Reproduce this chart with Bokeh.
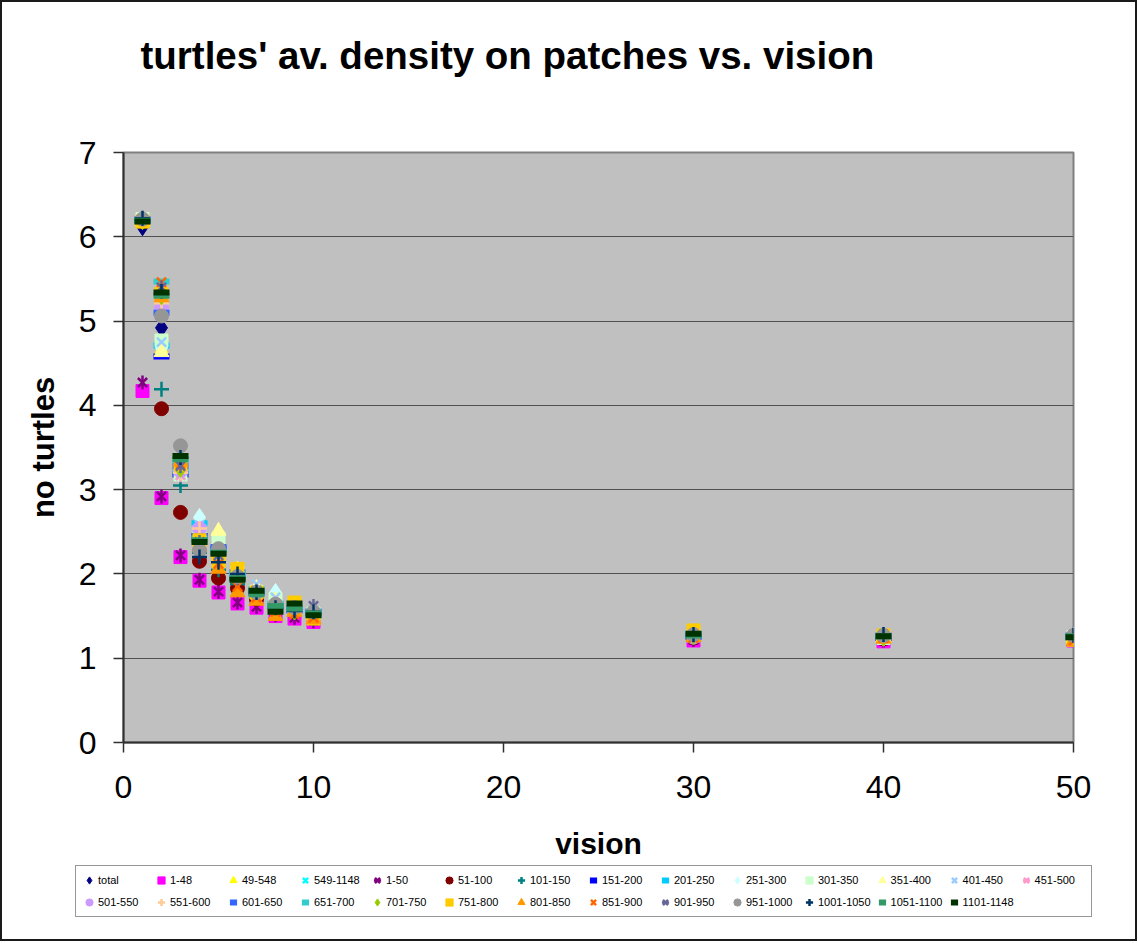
import math
from bokeh.plotting import figure
from bokeh.models import Legend, LegendItem, SingleIntervalTicker, Range1d, Title
from bokeh.embed import file_html
from bokeh.resources import INLINE

# ---------------- data ----------------
vision = [1, 2, 3, 4, 5, 6, 7, 8, 9, 10, 30, 40, 50]

total     = [6.12, 4.92, 3.30, 2.40, 2.20, 1.90, 1.75, 1.58, 1.55, 1.50, 1.25, 1.24, 1.24]
g_1_48    = [4.17, 2.90, 2.20, 1.92, 1.78, 1.65, 1.60, 1.50, 1.47, 1.43, 1.21, 1.20, 1.21]
g_49_548  = [6.18, 4.65, 3.20, 2.45, 2.25, 1.95, 1.78, 1.62, 1.57, 1.52, 1.26, 1.24, 1.23]
g_549_1148 = [6.20, 4.75, 3.17, 2.50, 2.28, 1.98, 1.80, 1.66, 1.58, 1.53, 1.27, 1.25, 1.25]
b_1_50    = [4.27, 2.92, 2.22, 1.93, 1.79, 1.66, 1.61, 1.51, 1.48, 1.44, 1.22, 1.21, 1.22]
b_51_100  = [6.18, 3.96, 2.73, 2.15, 1.95, 1.83, 1.70, 1.58, 1.55, 1.50, 1.24, 1.23, 1.23]
b_101_150 = [6.20, 4.19, 3.05, 2.25, 2.05, 1.88, 1.75, 1.60, 1.55, 1.52, 1.25, 1.24, 1.23]
b_151_200 = [6.20, 4.58, 3.18, 2.45, 2.30, 1.95, 1.78, 1.62, 1.57, 1.55, 1.26, 1.24, 1.25]
b_201_250 = [6.19, 4.71, 3.22, 2.60, 2.28, 2.00, 1.80, 1.65, 1.58, 1.52, 1.27, 1.26, 1.26]
b_251_300 = [6.20, 4.68, 3.20, 2.67, 2.35, 1.98, 1.82, 1.78, 1.60, 1.54, 1.28, 1.25, 1.26]
b_301_350 = [6.21, 4.77, 3.18, 2.50, 2.42, 2.02, 1.79, 1.70, 1.58, 1.53, 1.27, 1.24, 1.25]
b_351_400 = [6.20, 4.63, 3.25, 2.45, 2.51, 2.05, 1.83, 1.68, 1.61, 1.55, 1.28, 1.25, 1.25]
b_401_450 = [6.21, 4.75, 3.17, 2.58, 2.30, 2.00, 1.88, 1.72, 1.60, 1.56, 1.27, 1.26, 1.27]
b_451_500 = [6.20, 5.20, 3.17, 2.50, 2.25, 1.95, 1.78, 1.65, 1.58, 1.55, 1.26, 1.25, 1.24]
b_501_550 = [6.19, 5.15, 3.22, 2.54, 2.25, 1.97, 1.75, 1.64, 1.56, 1.52, 1.25, 1.25, 1.24]
b_551_600 = [6.20, 5.21, 3.20, 2.54, 2.20, 1.92, 1.76, 1.60, 1.55, 1.50, 1.26, 1.24, 1.23]
b_601_650 = [6.21, 5.10, 3.28, 2.45, 2.32, 2.02, 1.80, 1.62, 1.58, 1.54, 1.25, 1.27, 1.27]
b_651_700 = [6.20, 5.47, 3.35, 2.42, 2.27, 2.00, 1.82, 1.64, 1.60, 1.55, 1.29, 1.26, 1.25]
b_701_750 = [6.19, 5.30, 3.25, 2.35, 2.20, 1.96, 1.77, 1.62, 1.56, 1.53, 1.27, 1.25, 1.24]
b_751_800 = [6.18, 5.32, 3.30, 2.40, 2.15, 2.06, 1.78, 1.60, 1.66, 1.47, 1.33, 1.27, 1.22]
b_801_850 = [6.20, 5.28, 3.33, 2.33, 2.06, 1.78, 1.68, 1.50, 1.55, 1.46, 1.25, 1.23, 1.20]
b_851_900 = [6.21, 5.46, 3.30, 2.35, 2.12, 1.85, 1.72, 1.55, 1.52, 1.48, 1.24, 1.24, 1.21]
b_901_950 = [6.22, 5.40, 3.28, 2.38, 2.22, 1.95, 1.80, 1.62, 1.60, 1.62, 1.27, 1.28, 1.28]
b_951_1000 = [6.21, 5.06, 3.52, 2.28, 2.30, 1.97, 1.78, 1.64, 1.60, 1.55, 1.28, 1.27, 1.27]
b_1001_1050 = [6.22, 5.35, 3.38, 2.20, 2.14, 2.00, 1.78, 1.60, 1.56, 1.55, 1.28, 1.28, 1.27]
b_1051_1100 = [6.19, 5.30, 3.36, 2.40, 2.25, 1.95, 1.76, 1.62, 1.59, 1.53, 1.27, 1.26, 1.26]
b_1101_1148 = [6.18, 5.34, 3.40, 2.38, 2.24, 1.93, 1.80, 1.55, 1.65, 1.51, 1.29, 1.26, 1.25]

labels = ["total", "1-48", "49-548", "549-1148", "1-50", "51-100", "101-150",
          "151-200", "201-250", "251-300", "301-350", "351-400", "401-450",
          "451-500", "501-550", "551-600", "601-650", "651-700", "701-750",
          "751-800", "801-850", "851-900", "901-950", "951-1000", "1001-1050",
          "1051-1100", "1101-1148"]
values = [total, g_1_48, g_49_548, g_549_1148, b_1_50, b_51_100, b_101_150,
          b_151_200, b_201_250, b_251_300, b_301_350, b_351_400, b_401_450,
          b_451_500, b_501_550, b_551_600, b_601_650, b_651_700, b_701_750,
          b_751_800, b_801_850, b_851_900, b_901_950, b_951_1000, b_1001_1050,
          b_1051_1100, b_1101_1148]

# marker kind and colour per series
kinds = ["diamond", "square", "triangle", "x", "star", "circle", "cross",
         "dash", "dash", "diamond", "square", "triangle", "x",
         "star", "circle", "cross", "dash", "dash", "diamond",
         "square", "triangle", "x", "star", "circle", "cross",
         "dash", "dash"]
colors = ["#000080", "#FF00FF", "#FFFF00", "#00FFFF", "#800080", "#800000", "#008080",
          "#0000FF", "#00CCFF", "#CCFFFF", "#CCFFCC", "#FFFF99", "#99CCFF",
          "#FF99CC", "#CC99FF", "#FFCC99", "#3366FF", "#33CCCC", "#99CC00",
          "#FFCC00", "#FF9900", "#FF6600", "#666699", "#969696", "#003366",
          "#339966", "#003300"]

FONT = "Liberation Sans"


def add_series(fig, xs, ys, kind, col):
    if kind == "star":
        r1 = fig.scatter(xs, ys, marker="x", size=13, line_color=col, line_width=2.5)
        r2 = fig.scatter(xs, ys, marker="dash", size=14, angle=math.pi / 2,
                         line_color=col, line_width=2.5)
        return [r1, r2]
    if kind == "dash":
        return [fig.scatter(xs, ys, marker="dash", size=16, line_color=col, line_width=6)]
    if kind == "x":
        return [fig.scatter(xs, ys, marker="x", size=13, line_color=col, line_width=2.5)]
    if kind == "cross":
        return [fig.scatter(xs, ys, marker="cross", size=15, line_color=col, line_width=2.5)]
    if kind == "diamond":
        return [fig.scatter(xs, ys, marker="diamond", size=18, fill_color=col, line_color=col)]
    if kind == "circle":
        return [fig.scatter(xs, ys, marker="circle", size=14, fill_color=col, line_color=col)]
    if kind == "triangle":
        return [fig.scatter(xs, ys, marker="triangle", size=15, fill_color=col, line_color=col)]
    return [fig.scatter(xs, ys, marker="square", size=13, fill_color=col, line_color=col)]


# ---------------- main chart (whole chart area, with its border) ----------------
p = figure(frame_width=950, frame_height=590,
           x_range=Range1d(0, 50), y_range=Range1d(0, 7),
           output_backend="svg", toolbar_location=None,
           min_border_left=121, min_border_right=62,
           min_border_top=150, min_border_bottom=197)
p.title.visible = False
p.styles = {"border": "2px solid #1a1a1a"}

p.background_fill_color = "#C0C0C0"
p.border_fill_color = "white"
p.outline_line_color = "#808080"
p.outline_line_width = 2

# spacer between frame and title, then the title itself
p.add_layout(Title(text=" ", text_font_size="10px", standoff=58), "above")
p.add_layout(Title(text="turtles' av. density on patches vs. vision",
                   text_font=FONT, text_font_size="38.5px", text_font_style="bold",
                   text_color="black", align="left", offset=17, standoff=10), "above")

p.xaxis.ticker = SingleIntervalTicker(interval=10)
p.yaxis.ticker = SingleIntervalTicker(interval=1)
p.xgrid.visible = False
p.ygrid.grid_line_color = "#505050"
p.ygrid.grid_line_width = 1

for ax in (p.xaxis[0], p.yaxis[0]):
    ax.axis_line_color = "#303030"
    ax.axis_line_width = 2
    ax.major_tick_line_color = "#303030"
    ax.major_tick_line_width = 1.5
    ax.major_tick_out = 10
    ax.major_tick_in = 0
    ax.minor_tick_out = 0
    ax.minor_tick_in = 0
    ax.major_label_text_font = FONT
    ax.major_label_text_font_size = "32px"
    ax.major_label_text_color = "black"
    ax.axis_label_text_font = FONT
    ax.axis_label_text_font_size = "30px"
    ax.axis_label_text_font_style = "bold"
    ax.axis_label_text_color = "black"

p.yaxis.axis_label_text_font_size = "31px"
p.xaxis.axis_label = "vision"
p.yaxis.axis_label = "no turtles"
p.xaxis.major_label_standoff = 23
p.xaxis.axis_label_standoff = 26
p.yaxis.major_label_standoff = 17
p.yaxis.axis_label_standoff = 15

for ys, kind, col in zip(values, kinds, colors):
    add_series(p, vision, ys, kind, col)

# ---------------- legend strip, laid over the bottom of the chart area ----------------
q = figure(width=1133, height=74, x_range=Range1d(0, 50), y_range=Range1d(100, 101),
           x_axis_type=None, y_axis_type=None,
           output_backend="svg", toolbar_location=None, min_border=0)
q.title.visible = False
q.outline_line_color = None
q.background_fill_alpha = 0
q.border_fill_alpha = 0
q.styles = {"margin-top": "-76px", "margin-left": "2px"}

items = []
for lab, ys, kind, col in zip(labels, values, kinds, colors):
    rs = add_series(q, vision, ys, kind, col)
    items.append(LegendItem(label=lab, renderers=rs))

legend = Legend(items=items, orientation="horizontal", ncols=14,
                location=(73, 22),
                label_text_font=FONT, label_text_font_size="11px",
                label_text_color="black",
                glyph_width=18, glyph_height=20, label_standoff=0,
                label_width=52, spacing=2, padding=4, margin=0,
                border_line_color="#303030", border_line_width=1.5,
                background_fill_color="white", background_fill_alpha=1.0)
q.add_layout(legend, "center")

open("out.html", "w").write(file_html([p, q], INLINE))
